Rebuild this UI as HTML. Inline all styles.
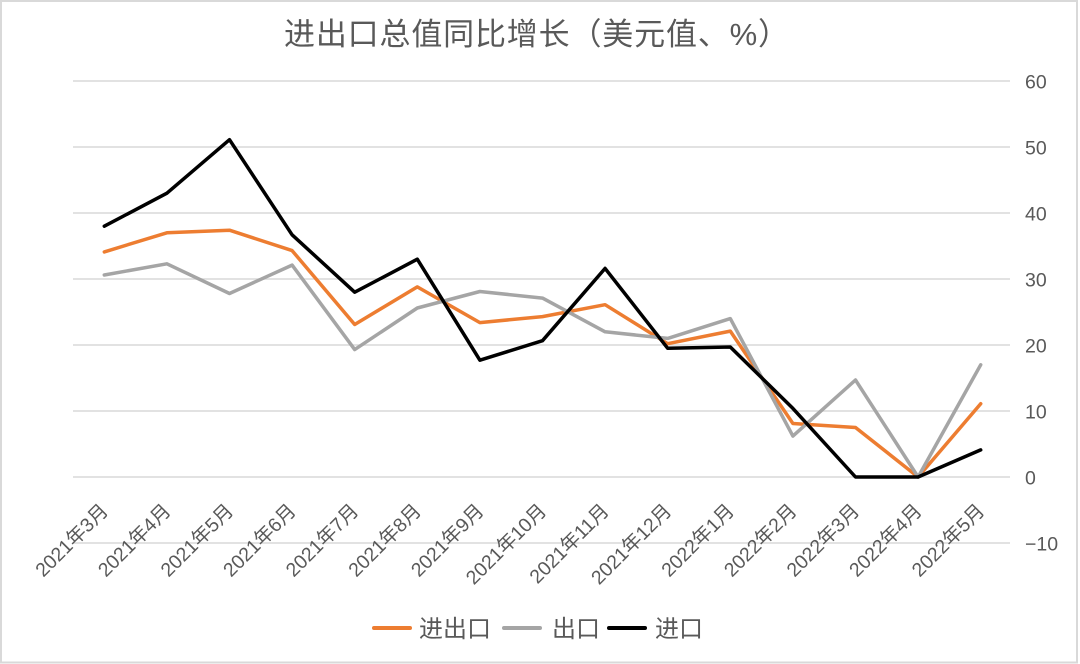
<!DOCTYPE html>
<html>
<head>
<meta charset="utf-8">
<style>
  html, body { margin: 0; padding: 0; background: #ffffff; }
  svg { display: block; }
  text { font-family: "Liberation Sans", "Noto Sans CJK SC", sans-serif; fill: #595959; }
</style>
</head>
<body>
<svg width="1080" height="664" viewBox="0 0 1080 664" xmlns="http://www.w3.org/2000/svg">
  <rect x="0" y="0" width="1080" height="664" fill="#ffffff"/>
  <rect x="1" y="1" width="1076" height="661.5" fill="none" stroke="#d9d9d9" stroke-width="2"/>

  <!-- Title -->
  <text x="284" y="45" font-size="31" textLength="505" lengthAdjust="spacing">进出口总值同比增长（美元值、%）</text>

  <!-- Gridlines -->
  <g stroke="#d9d9d9" stroke-width="1.5">
    <line x1="73" y1="81" x2="1010" y2="81"/>
    <line x1="73" y1="147" x2="1010" y2="147"/>
    <line x1="73" y1="213" x2="1010" y2="213"/>
    <line x1="73" y1="279" x2="1010" y2="279"/>
    <line x1="73" y1="345" x2="1010" y2="345"/>
    <line x1="73" y1="411" x2="1010" y2="411"/>
    <line x1="73" y1="477" x2="1010" y2="477"/>
    <line x1="73" y1="543" x2="1010" y2="543"/>
  </g>

  <!-- Y axis labels (right) -->
  <g font-size="19.5">
    <text x="1025" y="88.5">60</text>
    <text x="1025" y="154.5">50</text>
    <text x="1025" y="220.5">40</text>
    <text x="1025" y="286.5">30</text>
    <text x="1025" y="352.5">20</text>
    <text x="1025" y="418.5">10</text>
    <text x="1025" y="484.5">0</text>
    <text x="1025" y="550.5">−10</text>
  </g>

  <!-- X axis labels -->
  <g font-size="19.5" text-anchor="end">
    <text transform="translate(109.3,512) rotate(-45)">2021年3月</text>
    <text transform="translate(171.9,512) rotate(-45)">2021年4月</text>
    <text transform="translate(234.5,512) rotate(-45)">2021年5月</text>
    <text transform="translate(297.1,512) rotate(-45)">2021年6月</text>
    <text transform="translate(359.7,512) rotate(-45)">2021年7月</text>
    <text transform="translate(422.3,512) rotate(-45)">2021年8月</text>
    <text transform="translate(484.9,512) rotate(-45)">2021年9月</text>
    <text transform="translate(547.5,512) rotate(-45)">2021年10月</text>
    <text transform="translate(610.1,512) rotate(-45)">2021年11月</text>
    <text transform="translate(672.7,512) rotate(-45)">2021年12月</text>
    <text transform="translate(735.3,512) rotate(-45)">2022年1月</text>
    <text transform="translate(797.9,512) rotate(-45)">2022年2月</text>
    <text transform="translate(860.5,512) rotate(-45)">2022年3月</text>
    <text transform="translate(923.1,512) rotate(-45)">2022年4月</text>
    <text transform="translate(985.7,512) rotate(-45)">2022年5月</text>
  </g>

  <!-- Series -->
  <g fill="none" stroke-width="3.5" stroke-linejoin="round" stroke-linecap="round">
    <!-- 进出口 -->
    <polyline stroke="#ED7D31" points="104.3,251.9 166.9,232.8 229.5,230.2 292.1,250.6 354.7,324.5 417.3,286.9 479.9,322.6 542.5,316.6 605.1,304.7 667.7,343.7 730.3,331.1 792.9,423.5 855.5,427.5 918.1,477 980.7,403.7"/>
    <!-- 出口 -->
    <polyline stroke="#A5A5A5" points="104.3,275.0 166.9,263.8 229.5,293.5 292.1,265.1 354.7,349.6 417.3,308.0 479.9,291.5 542.5,298.1 605.1,331.8 667.7,338.4 730.3,318.6 792.9,436.1 855.5,380.0 918.1,477 980.7,364.8"/>
    <!-- 进口 -->
    <polyline stroke="#000000" points="104.3,226.2 166.9,193.2 229.5,139.7 292.1,234.8 354.7,292.2 417.3,259.2 479.9,360.2 542.5,340.7 605.1,268.4 667.7,348.3 730.3,347.0 792.9,408.4 855.5,477 918.1,477 980.7,449.9"/>
  </g>

  <!-- Legend -->
  <g stroke-width="4" stroke-linecap="round">
    <line x1="374" y1="628" x2="410" y2="628" stroke="#ED7D31"/>
    <line x1="504" y1="628" x2="540" y2="628" stroke="#A5A5A5"/>
    <line x1="609" y1="628" x2="645" y2="628" stroke="#000000"/>
  </g>
  <g font-size="24">
    <text x="419" y="637">进出口</text>
    <text x="552" y="637">出口</text>
    <text x="655" y="637">进口</text>
  </g>
</svg>
</body>
</html>
